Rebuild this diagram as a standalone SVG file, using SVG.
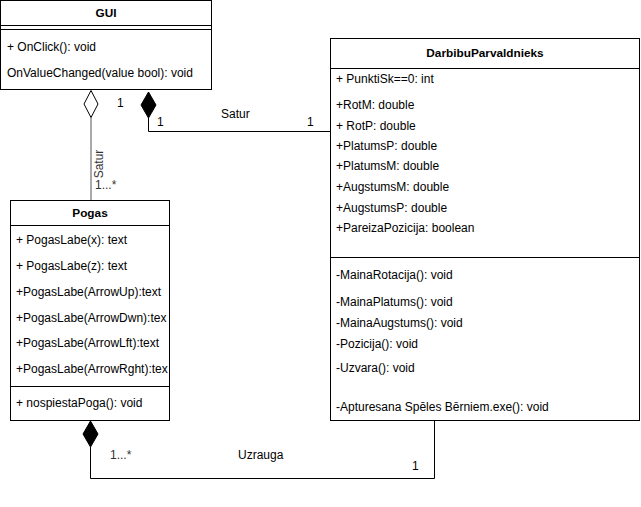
<svg xmlns="http://www.w3.org/2000/svg" width="641" height="507" viewBox="0 0 641 507">
<style>
text{font-family:"Liberation Sans",Arial,sans-serif;font-size:12px;fill:#000}
.b{font-weight:bold;text-anchor:middle;font-size:11.8px}
.box{fill:#fff;stroke:#000;stroke-width:1}
.ln{fill:none;stroke:#000;stroke-width:1}
.lbl{fill:#333}
</style>
<defs>
<clipPath id="pc"><rect x="10" y="200" width="159.5" height="220"/></clipPath>
</defs>
<g id="GUI">
<rect class="box" x="0.5" y="0.5" width="211" height="89"/>
<line class="ln" x1="0.5" y1="25.5" x2="211.5" y2="25.5"/>
<line class="ln" x1="0.5" y1="29.5" x2="211.5" y2="29.5"/>
<text class="b" x="106" y="17">GUI</text>
<text x="7" y="51">+ OnClick(): void</text>
<text x="7" y="77">OnValueChanged(value bool): void</text>
</g>
<g id="DarbibuParvaldnieks">
<rect class="box" x="330.5" y="38.5" width="309" height="382"/>
<line class="ln" x1="330.5" y1="68.5" x2="639.5" y2="68.5"/>
<line class="ln" x1="330.5" y1="257.5" x2="639.5" y2="257.5"/>
<text class="b" x="485" y="57">DarbibuParvaldnieks</text>
<text x="336" y="83">+ PunktiSk==0: int</text>
<text x="336" y="109">+RotM: double</text>
<text x="336" y="130">+ RotP: double</text>
<text x="336" y="150">+PlatumsP: double</text>
<text x="336" y="170">+PlatumsM: double</text>
<text x="336" y="191">+AugstumsM: double</text>
<text x="336" y="212">+AugstumsP: double</text>
<text x="336" y="232">+PareizaPozicija: boolean</text>
<text x="336" y="279">-MainaRotacija(): void</text>
<text x="336" y="306">-MainaPlatums(): void</text>
<text x="336" y="327">-MainaAugstums(): void</text>
<text x="336" y="348">-Pozicija(): void</text>
<text x="336" y="372">-Uzvara(): void</text>
<text x="336" y="411">-Apturesana Spēles Bērniem.exe(): void</text>
</g>
<g id="Pogas">
<rect class="box" x="10.5" y="200.5" width="159" height="220"/>
<line class="ln" x1="10.5" y1="225.5" x2="169.5" y2="225.5"/>
<line class="ln" x1="10.5" y1="386.5" x2="169.5" y2="386.5"/>
<text class="b" x="90" y="217">Pogas</text>
<g clip-path="url(#pc)">
<text x="16" y="244">+ PogasLabe(x): text</text>
<text x="16" y="270">+ PogasLabe(z): text</text>
<text x="16" y="296">+PogasLabe(ArrowUp):text</text>
<text x="16" y="322">+PogasLabe(ArrowDwn):tex</text>
<text x="16" y="347">+PogasLabe(ArrowLft):text</text>
<text x="16" y="373">+PogasLabe(ArrowRght):tex</text>
</g>
<text x="16" y="407">+ nospiestaPoga(): void</text>
</g>
<g id="connectors">
<path d="M91 117.5V200" fill="none" stroke="#555" stroke-width="1"/>
<path d="M91 90.5L98 104L91 117.5L84 104Z" fill="#fff" stroke="#000"/>
<text class="lbl" x="103" y="164" transform="rotate(-90 103 164)" text-anchor="middle">Satur</text>
<text class="lbl" x="95" y="189">1...*</text>
<text x="117" y="107">1</text>
<path class="ln" d="M148.5 118V131.5H330"/>
<path d="M148.5 92L156 105L148.5 118L141 105Z" fill="#000" stroke="#000"/>
<text x="157" y="126">1</text>
<text x="221" y="118">Satur</text>
<text x="307" y="126">1</text>
<path class="ln" d="M90.5 447V478.5H434.5V420.5"/>
<path d="M90.5 421L98 434L90.5 447L83 434Z" fill="#000" stroke="#000"/>
<text class="lbl" x="110" y="459">1...*</text>
<text x="238" y="459">Uzrauga</text>
<text x="412" y="470">1</text>
</g>
</svg>
